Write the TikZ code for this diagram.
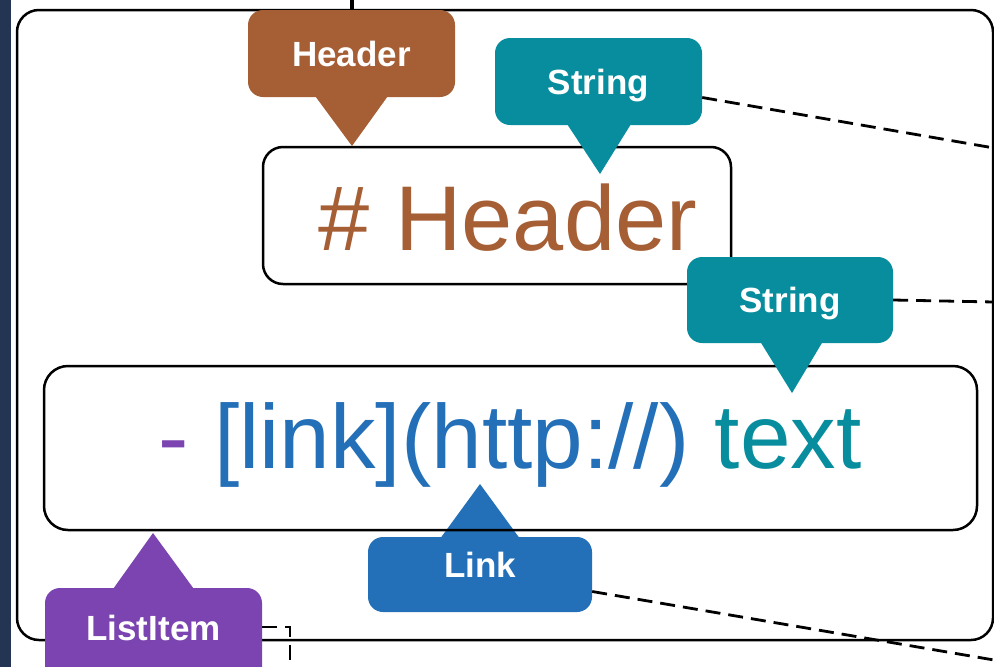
\documentclass[tikz,border=0pt]{standalone}
\usepackage{fontspec}
\setmainfont{Liberation Sans}
\usepackage{tikz}

\definecolor{hdrbrown}{HTML}{A65E35}
\definecolor{strteal}{HTML}{078D9D}
\definecolor{lnkblue}{HTML}{2470B8}
\definecolor{itempurple}{HTML}{7B44B0}
\definecolor{sidenavy}{HTML}{233552}

\begin{document}
\begin{tikzpicture}[
            x = 1pt,
            y = -1pt,
            box/.style = {
                draw,
                rounded corners = #1,
                line width = 2.5pt,
                inner sep = 0pt
            },
            box/.default = 20pt,
            callout/.style = {
                fill = #1,
                rounded corners = 15pt,
                text = white,
                font = \bfseries\fontsize{35}{40}\selectfont,
                text height = 25pt,
                text depth = 0pt,
                inner sep = 0pt
            },
            bigtext/.style = {
                anchor = base,
                inner sep = 0pt,
                font = \fontsize{91}{100}\selectfont
            },
            tieline/.style = {
                dash pattern = on 15pt off 8pt,
                line width = 2.8pt
            }
            ]
            \useasboundingbox (0,0) rectangle (994,667);
            \fill[sidenavy] (0,0) rectangle (11,667);

            % document frame
            \node[box=22pt, minimum width=976pt, minimum height=630pt] (outer) at (505,325) {};
            \coordinate (top) at (352,0);
            \draw[line width = 3.5pt] (top) -- (top |- outer.north);

            % link callout sits under the list item box
            \node[callout=lnkblue, minimum width=224pt, minimum height=75pt, text depth=20pt] (lnk) at (480,574.5) {Link};
            \coordinate (lnktip) at (480,484);
            \fill[lnkblue] ([xshift=-40pt,yshift=-2pt]lnk.north) -- (lnktip) -- ([xshift=40pt,yshift=-2pt]lnk.north) -- cycle;

            % source lines
            \node[box, minimum width=468pt, minimum height=137pt] (hbox) at (497,215.5) {};
            \node[box=24pt, minimum width=933pt, minimum height=164pt] (lbox) at (510.5,448) {};
            \node[bigtext, text=hdrbrown, font=\fontsize{92}{100}\selectfont] (htext) at (508,250) {\# Header};
            \node[bigtext] (ltext) at (510,468) {\textcolor{itempurple}{-} \textcolor{lnkblue}{[link](http://)} \textcolor{strteal}{text}};

            % callouts
            \node[callout=hdrbrown, minimum width=207pt, minimum height=87pt] (hdr) at (351.5,53.5) {Header};
            \coordinate (hdrtip) at (352,146);
            \fill[hdrbrown] ([xshift=-37pt,yshift=2pt]hdr.south) -- (hdrtip) -- ([xshift=37pt,yshift=2pt]hdr.south) -- cycle;

            \node[callout=strteal, minimum width=207pt, minimum height=87pt] (str1) at (598.5,81.5) {String};
            \coordinate (str1tip) at (600,174);
            \fill[strteal] ([xshift=-32pt,yshift=2pt]str1.south) -- (str1tip) -- ([xshift=33pt,yshift=2pt]str1.south) -- cycle;

            \node[callout=strteal, minimum width=206pt, minimum height=86pt] (str2) at (790,300) {String};
            \coordinate (str2tip) at (792,393);
            \fill[strteal] ([xshift=-30pt,yshift=2pt]str2.south) -- (str2tip) -- ([xshift=33pt,yshift=2pt]str2.south) -- cycle;

            \node[callout=itempurple, minimum width=217pt, minimum height=96pt, text depth=17pt] (item) at (153.5,636) {ListItem};
            \coordinate (itemtip) at (153,533);
            \fill[itempurple] ([xshift=-41pt,yshift=-2pt]item.north) -- (itemtip) -- ([xshift=41pt,yshift=-2pt]item.north) -- cycle;

            % ties to the right
            \coordinate (str1end) at (994,148);
            \coordinate (str2end) at (994,302);
            \coordinate (lnkend) at (994,660);
            \coordinate (itemend) at (290,667);
            \draw[tieline] ([yshift=-16pt]str1.east) -- (str1end);
            \draw[tieline] (str2.east) -- (str2end);
            \draw[tieline] ([yshift=-17pt]lnk.east) -- (lnkend);
            \draw[tieline] ([yshift=9pt]item.east) -| (itemend);
        \end{tikzpicture}
\end{document}
